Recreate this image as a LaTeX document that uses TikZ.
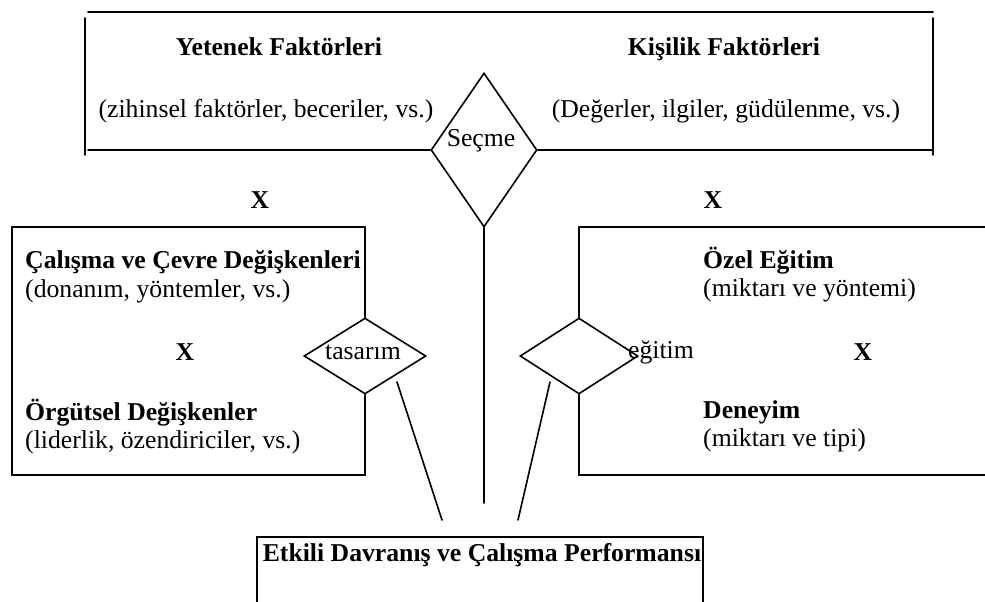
\documentclass[tikz,border=0pt]{standalone}
\usepackage{fontspec}
\setmainfont{Liberation Serif}
\usetikzlibrary{shapes.geometric}
\begin{document}
\begin{tikzpicture}[x=1pt,y=-1pt,
  ln/.style={line width=1.6pt,line cap=round},
  txt/.style={inner sep=0pt,font=\fontsize{25.7}{30}\selectfont},
  btxt/.style={inner sep=0pt,font=\fontsize{25.7}{30}\selectfont\bfseries},
  dia/.style={diamond,draw,line width=1.6pt,inner sep=0pt,minimum width=#1}]
\useasboundingbox (0,0) rectangle (985,602);
% top box
\node[btxt,anchor=base] (yet) at (279,56) {Yetenek Faktörleri};
\node[txt,anchor=base] (yetd) at (266,117) {(zihinsel faktörler, beceriler, vs.)};
\node[btxt,anchor=base] (kis) at (724,56) {Kişilik Faktörleri};
\node[txt,anchor=base] (kisd) at (726,117) {(Değerler, ilgiler, güdülenme, vs.)};
\node[dia=106pt,minimum height=154pt] (sec) at (484,150) {};
\node[txt] (sect) at (481,141) {Seçme};
\draw[ln] (88,12) -- (933,12);
\draw[ln] (85,18) -- (85,155);
\draw[ln] (933,18) -- (933,155);
\draw[ln] (88,150) -- (sec.west);
\draw[ln] (sec.east) -- (933,150);
\node[btxt] (x1) at (260,200) {X};
\node[btxt] (x2) at (713,200) {X};
% left box
\node[dia=122pt,minimum height=76pt] (tas) at (365,356) {};
\node[txt] (tast) at (363,352) {tasarım};
\draw[ln] (tas.north) -- (tas.north |- 0,227) -- (12,227) -- (12,475) -- (tas.south |- 0,475) -- (tas.south);
\node[btxt,anchor=west] (cal) at (25,262) {Çalışma ve Çevre Değişkenleri};
\node[txt,anchor=west] (cald) at (25,291) {(donanım, yöntemler, vs.)};
\node[btxt] (x3) at (185,352) {X};
\node[btxt,anchor=west] (org) at (25,413) {Örgütsel Değişkenler};
\node[txt,anchor=west] (orgd) at (25,442) {(liderlik, özendiriciler, vs.)};
% right box
\node[dia=118pt,minimum height=76pt] (egi) at (579,356) {};
\node[txt] (egit) at (661,352) {eğitim};
\draw[ln] (egi.north) -- (egi.north |- 0,227) -- (990,227);
\draw[ln] (990,475) -- (egi.south |- 0,475) -- (egi.south);
\node[btxt,anchor=west] (oze) at (703,261) {Özel Eğitim};
\node[txt,anchor=west] (ozed) at (703,290) {(miktarı ve yöntemi)};
\node[btxt] (x4) at (863,352) {X};
\node[btxt,anchor=west] (den) at (703,412) {Deneyim};
\node[txt,anchor=west] (dend) at (703,440) {(miktarı ve tipi)};
% bottom box
\node[btxt] (perf) at (482,555) {Etkili Davranış ve Çalışma Performansı};
\draw[ln] (257,610) -- (257,537) -- (703,537) -- (703,610);
% connectors
\coordinate (c1) at (sec.south |- 0,503);
\coordinate (l1) at (397,382);
\coordinate (l2) at (442,520);
\coordinate (r1) at (550,382);
\coordinate (r2) at (518,520);
\draw[ln] (sec.south) -- (c1);
\draw[ln] (l1) -- (l2);
\draw[ln] (r1) -- (r2);
\end{tikzpicture}
\end{document}
